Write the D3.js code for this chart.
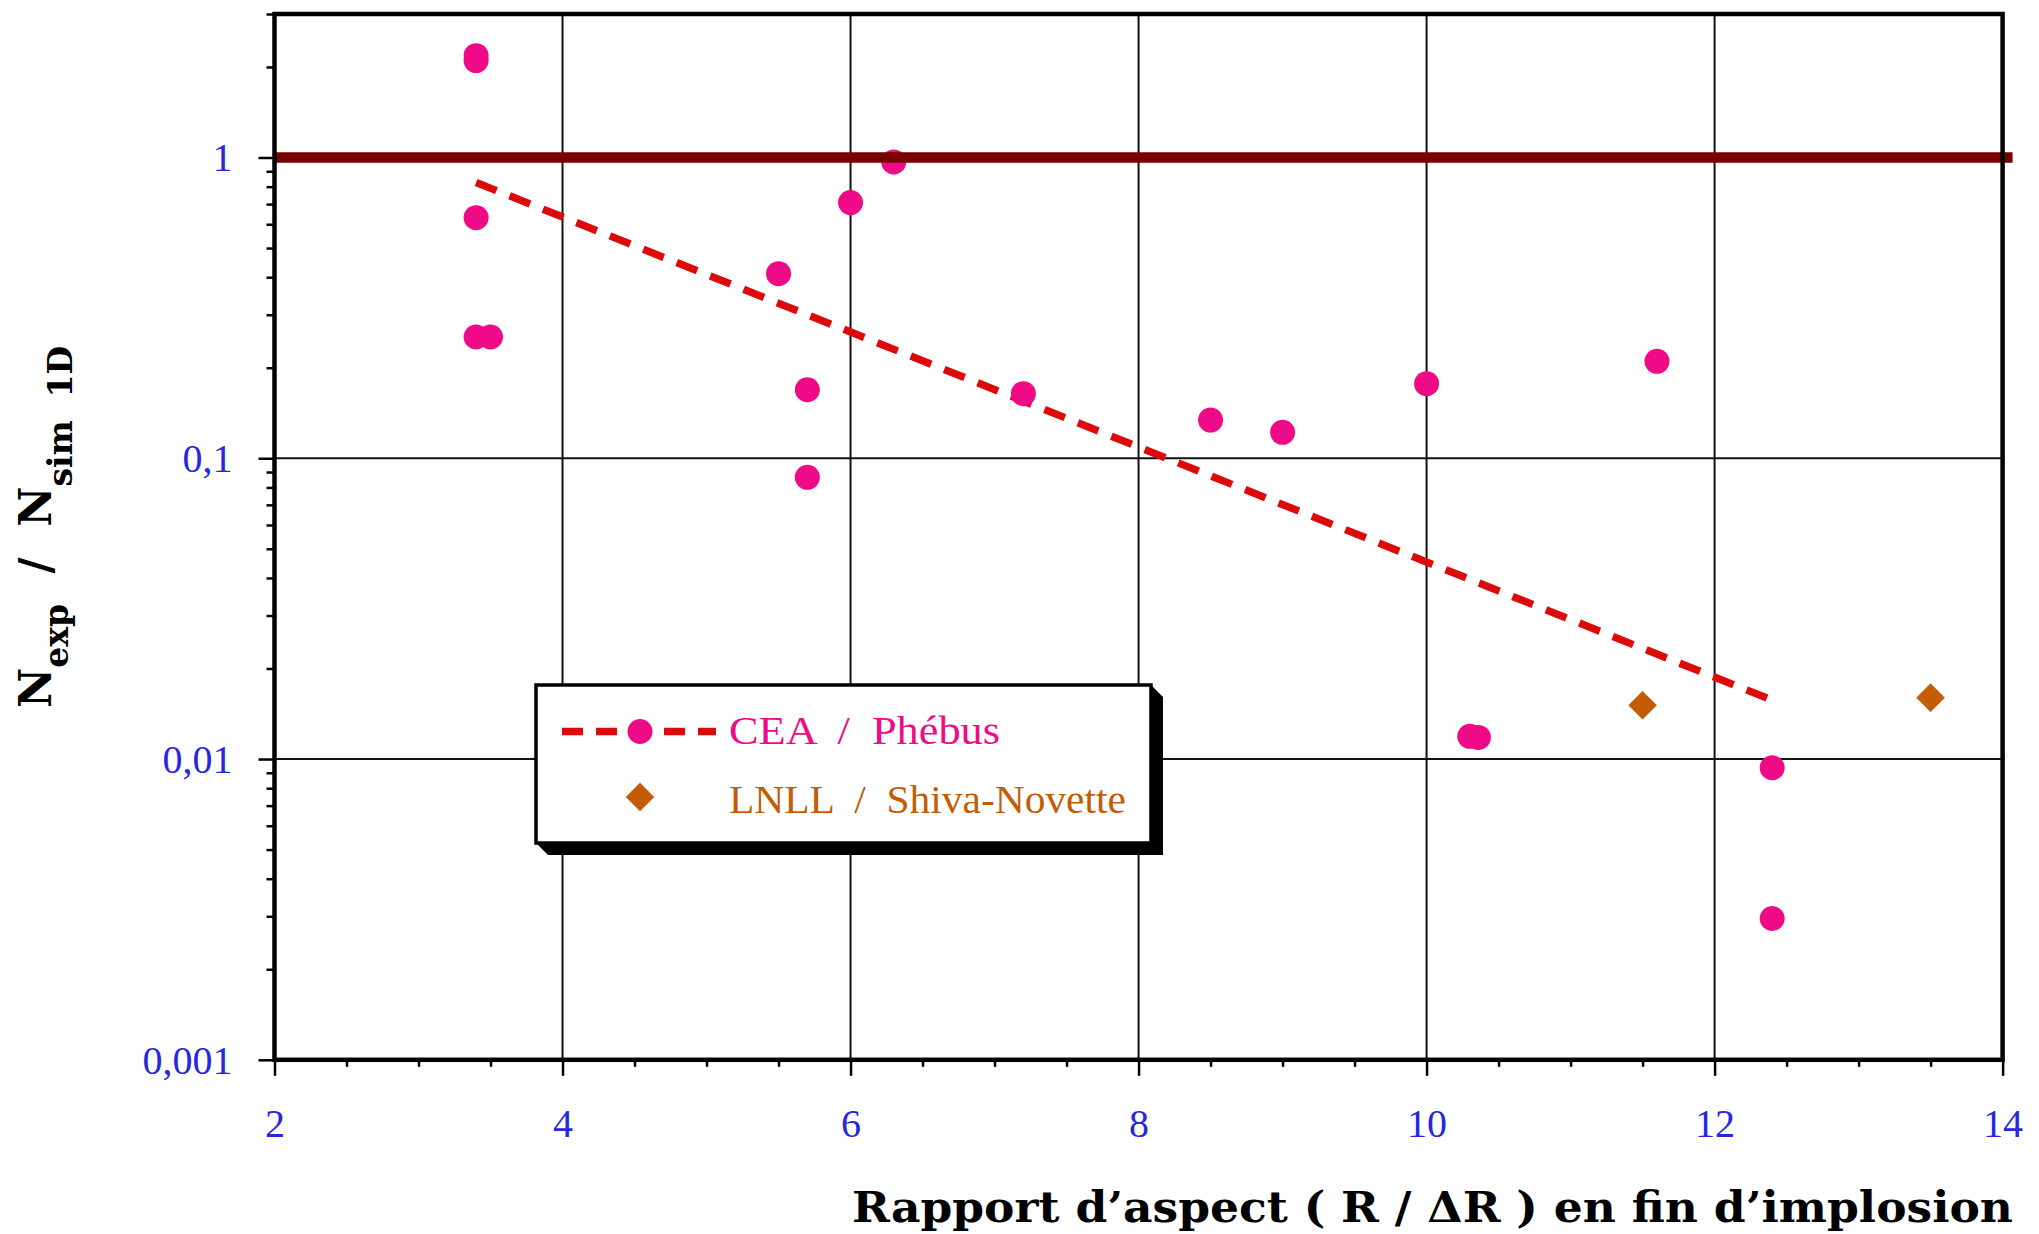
<!DOCTYPE html>
<html>
<head>
<meta charset="utf-8">
<script src="https://cdn.jsdelivr.net/npm/d3@7"></script>
<style>
  body { margin: 0; background: #ffffff; }
  svg { display: block; }
</style>
</head>
<body>
<svg id="chart" width="2039" height="1234"></svg>
<script>
// CEA / Phébus shots: aspect ratio at end of implosion vs N_exp / N_sim 1D
const ceaX = [3.4, 3.4, 3.4, 3.4, 3.5, 5.5, 5.7, 5.7, 6.0, 6.3, 7.2, 8.5, 9.0, 10.0, 11.6, 10.3, 10.36, 12.4, 12.4];
const ceaY = [2.18, 2.10, 0.631, 0.253, 0.253, 0.411, 0.169, 0.0864, 0.708, 0.967, 0.164, 0.134, 0.122, 0.177, 0.210, 0.0119, 0.0118, 0.00936, 0.00295];

// LNLL / Shiva-Novette shots
const lnllX = [11.5, 13.5];
const lnllY = [0.0151, 0.0160];

// Exponential fit of the CEA points (straight on the log axis)
const trendX = [3.4, 12.4];
const trendY = [0.826, 0.0157];

// Reference level N_exp = N_sim
const refValue = 1;

// Axes
const xDomain = [2, 14];
const yDomain = [0.001, 3];
const xTicks = [2, 4, 6, 8, 10, 12, 14];
const xTickLabels = ["2", "4", "6", "8", "10", "12", "14"];
const xGrid = [4, 6, 8, 10, 12];
const yTicks = [0.001, 0.01, 0.1, 1];
const yTickLabels = ["0,001", "0,01", "0,1", "1"];

const legendLabels = ["CEA  /  Phébus", "LNLL  /  Shiva-Novette"];
const xTitle = "Rapport d\u2019aspect ( R / \u0394R ) en fin d\u2019implosion";

// Colours
const PINK = "#ef0a88";
const TREND = "#dd0a0a";
const ORANGE = "#c45c05";
const REF = "#780000";
const BLUE = "#2727e0";

const svg = d3.select("#chart");
const W = 2039, H = 1234;
const plot = { left: 274.5, right: 2002.6, bottom: 1059.8, top: 14 };

const x = d3.scaleLinear().domain(xDomain).range([plot.left, plot.right]);
const y = d3.scaleLog().domain(yDomain).range([plot.bottom, plot.top]);

svg.append("rect").attr("width", W).attr("height", H).attr("fill", "#fff");

// Grid
const grid = svg.append("g").attr("stroke", "#111").attr("stroke-width", 2);
grid.selectAll("line.v").data(xGrid).join("line")
  .attr("x1", d => x(d)).attr("x2", d => x(d))
  .attr("y1", plot.top).attr("y2", plot.bottom);
grid.selectAll("line.h").data(yTicks.slice(1)).join("line")
  .attr("y1", d => y(d)).attr("y2", d => y(d))
  .attr("x1", plot.left).attr("x2", plot.right);

// Trend line
svg.append("path")
  .datum(trendX.map((v, i) => [v, trendY[i]]))
  .attr("d", d3.line().x(d => x(d[0])).y(d => y(d[1])))
  .attr("fill", "none").attr("stroke", TREND).attr("stroke-width", 7.5)
  .attr("stroke-dasharray", "22,14");

// CEA points
svg.append("g").selectAll("circle").data(ceaX.map((v, i) => [v, ceaY[i]])).join("circle")
  .attr("cx", d => x(d[0])).attr("cy", d => y(d[1])).attr("r", 12.5)
  .attr("fill", PINK);

// LNLL points
const diamond = d3.symbol().type(d3.symbolDiamond2).size(520);
svg.append("g").selectAll("path").data(lnllX.map((v, i) => [v, lnllY[i]])).join("path")
  .attr("transform", d => `translate(${x(d[0])},${y(d[1])})`)
  .attr("d", diamond).attr("fill", ORANGE);

// Reference line at 1
svg.append("line")
  .attr("x1", x(xDomain[0])).attr("x2", x(xDomain[1]) + 10)
  .attr("y1", y(refValue)).attr("y2", y(refValue))
  .attr("stroke", REF).attr("stroke-width", 10.5);

// Frame
svg.append("rect")
  .attr("x", plot.left).attr("y", plot.top)
  .attr("width", plot.right - plot.left).attr("height", plot.bottom - plot.top)
  .attr("fill", "none").attr("stroke", "#000").attr("stroke-width", 4.5);

// Minor ticks
const yMinor = [];
[0.001, 0.01, 0.1, 1].forEach(dec => {
  for (let k = 2; k <= 9; k++) { const v = dec * k; if (v <= yDomain[1]) yMinor.push(v); }
});
const xMinor = d3.range(2.5, 14, 0.5).filter(v => v % 2 !== 0);

const axisStyle = g => {
  g.select(".domain").remove();
  g.selectAll(".tick line").attr("stroke", "#000").attr("stroke-width", 2.5);
};

svg.append("g").attr("transform", `translate(${plot.left},0)`)
  .call(d3.axisLeft(y).tickValues(yMinor).tickSize(8).tickFormat(""))
  .call(axisStyle);
svg.append("g").attr("transform", `translate(0,${plot.bottom})`)
  .call(d3.axisBottom(x).tickValues(xMinor).tickSize(7).tickFormat(""))
  .call(axisStyle);

// Major ticks with labels
const yAxis = svg.append("g").attr("transform", `translate(${plot.left},0)`)
  .call(d3.axisLeft(y).tickValues(yTicks).tickSize(16)
    .tickFormat((d, i) => yTickLabels[i]))
  .call(axisStyle);
yAxis.selectAll(".tick text")
  .attr("x", -42).attr("dy", "0.33em")
  .attr("fill", BLUE).attr("font-family", "Liberation Serif, serif").attr("font-size", 40);

const xAxis = svg.append("g").attr("transform", `translate(0,${plot.bottom})`)
  .call(d3.axisBottom(x).tickValues(xTicks).tickSize(16)
    .tickFormat((d, i) => xTickLabels[i]))
  .call(axisStyle);
xAxis.selectAll(".tick text")
  .attr("y", 77.5).attr("dy", 0)
  .attr("fill", BLUE).attr("font-family", "Liberation Serif, serif").attr("font-size", 40);

// Axis titles
svg.append("text")
  .attr("x", 2013).attr("y", 1222)
  .attr("text-anchor", "end")
  .attr("font-family", "DejaVu Serif, serif").attr("font-weight", "bold").attr("font-size", 43)
  .attr("textLength", 1161).attr("lengthAdjust", "spacingAndGlyphs")
  .style("white-space", "pre")
  .text(xTitle);

const yt = svg.append("text")
  .attr("transform", "translate(51,708) rotate(-90)")
  .attr("font-family", "DejaVu Serif, serif").attr("font-weight", "bold").attr("font-size", 44)
  .style("white-space", "pre");
yt.append("tspan").text("N");
yt.append("tspan").attr("font-size", 33).attr("dy", 17).text("exp");
yt.append("tspan").attr("dy", -17).text("  /  ");
yt.append("tspan").text("N");
yt.append("tspan").attr("font-size", 33).attr("dy", 21).text("sim  1D");

// Legend
const lg = { x0: 536, y0: 685, x1: 1151, y1: 843, d: 12 };
svg.append("path")
  .attr("d", `M${lg.x1},${lg.y0} L${lg.x1 + lg.d},${lg.y0 + lg.d} L${lg.x1 + lg.d},${lg.y1 + lg.d} L${lg.x0 + lg.d},${lg.y1 + lg.d} L${lg.x0},${lg.y1} Z`)
  .attr("fill", "#000");
svg.append("rect")
  .attr("x", lg.x0).attr("y", lg.y0).attr("width", lg.x1 - lg.x0).attr("height", lg.y1 - lg.y0)
  .attr("fill", "#fff").attr("stroke", "#000").attr("stroke-width", 3.5);

const row1 = 731.5, row2 = 797;
svg.append("line")
  .attr("x1", 562).attr("x2", 716).attr("y1", row1).attr("y2", row1)
  .attr("stroke", TREND).attr("stroke-width", 7.5).attr("stroke-dasharray", "21,13");
svg.append("circle").attr("cx", 640).attr("cy", row1).attr("r", 12.5).attr("fill", PINK);
svg.append("path").attr("transform", `translate(640,${row2})`).attr("d", diamond).attr("fill", ORANGE);

svg.append("text").attr("x", 729).attr("y", row1 + 12)
  .attr("font-family", "Liberation Serif, serif").attr("font-size", 39)
  .attr("fill", PINK).style("white-space", "pre")
  .attr("textLength", 271).attr("lengthAdjust", "spacingAndGlyphs")
  .text(legendLabels[0]);
svg.append("text").attr("x", 729).attr("y", row2 + 16)
  .attr("font-family", "Liberation Serif, serif").attr("font-size", 39)
  .attr("fill", ORANGE).style("white-space", "pre")
  .attr("textLength", 397).attr("lengthAdjust", "spacingAndGlyphs")
  .text(legendLabels[1]);
</script>
</body>
</html>
